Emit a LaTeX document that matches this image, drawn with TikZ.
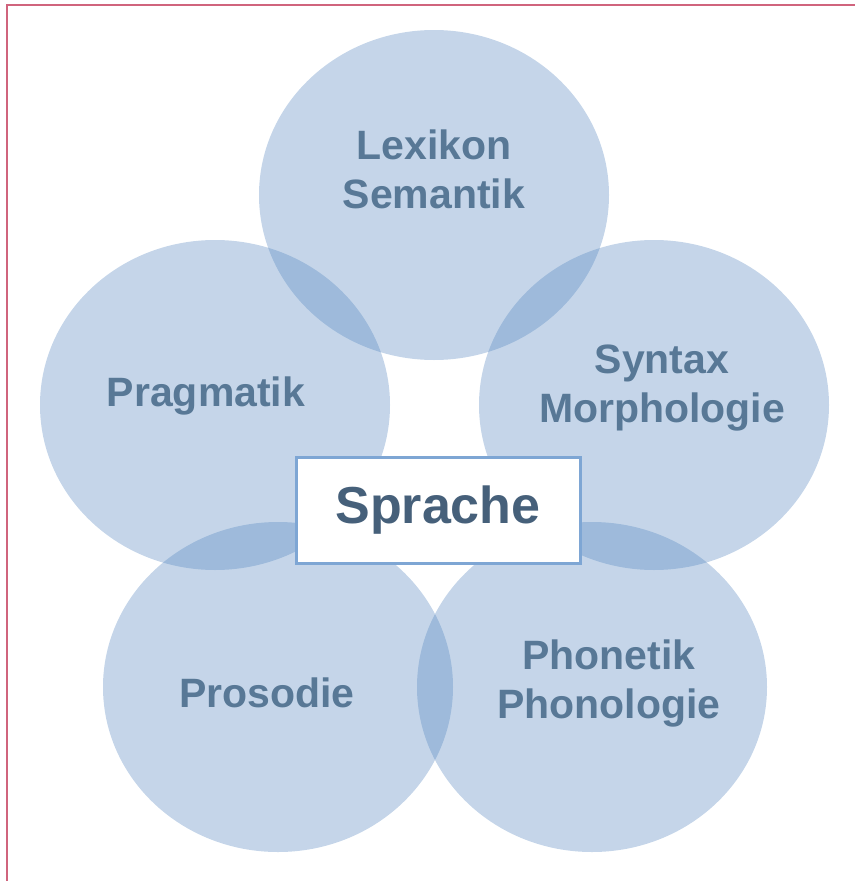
\documentclass[tikz,border=0pt]{standalone}
\usepackage{fontspec}
\setmainfont{Liberation Sans}
\definecolor{ringblue}{RGB}{79, 129, 189}
\definecolor{labelblue}{RGB}{88, 120, 150}
\definecolor{coreblue}{RGB}{70, 96, 122}
\definecolor{coreedge}{RGB}{126, 166, 212}
\definecolor{framered}{RGB}{208, 100, 125}
\usetikzlibrary{shapes.geometric, positioning}

\begin{document}
\begin{tikzpicture}[x=1pt, y=-1pt,
    ring/.style={ellipse, fill=ringblue, fill opacity=0.33, inner sep=0pt,
      minimum width=350pt, minimum height=330pt},
    ringlabel/.style={text=labelblue, align=center, font=\fontsize{41}{49}\selectfont\bfseries}]
  \useasboundingbox (0, 0) rectangle (855, 881);

  % Frame on top and left
  \draw[framered, line width=2pt] (7, 881) -- (7, 5) -- (855, 5);

  % Five fields of language
  \node[ring] (lex) at (434, 195) {};
  \node[ring] (prag) at (215, 405) {};
  \node[ring] (syn) at (654, 405) {};
  \node[ring] (pros) at (278, 687) {};
  \node[ring] (phon) at (592, 687) {};

  \node[ringlabel] (lexText) at (434, 169) {Lexikon\\Semantik};
  \node[ringlabel] (pragText) at (206, 396) {Pragmatik};
  \node[ringlabel] (synText) at (662, 388) {Syntax\\Morphologie};
  \node[ringlabel] (prosText) at (267, 693) {Prosodie};
  \node[ringlabel] (phonText) at (609, 683) {Phonetik\\Phonologie};

  % Centre box
  \node[draw=coreedge, line width=3pt, fill=white, text=coreblue,
    minimum width=284pt, minimum height=106pt,
    font=\fontsize{52}{60}\selectfont\bfseries] (core) at (438, 510) {Sprache};
\end{tikzpicture}
\end{document}
